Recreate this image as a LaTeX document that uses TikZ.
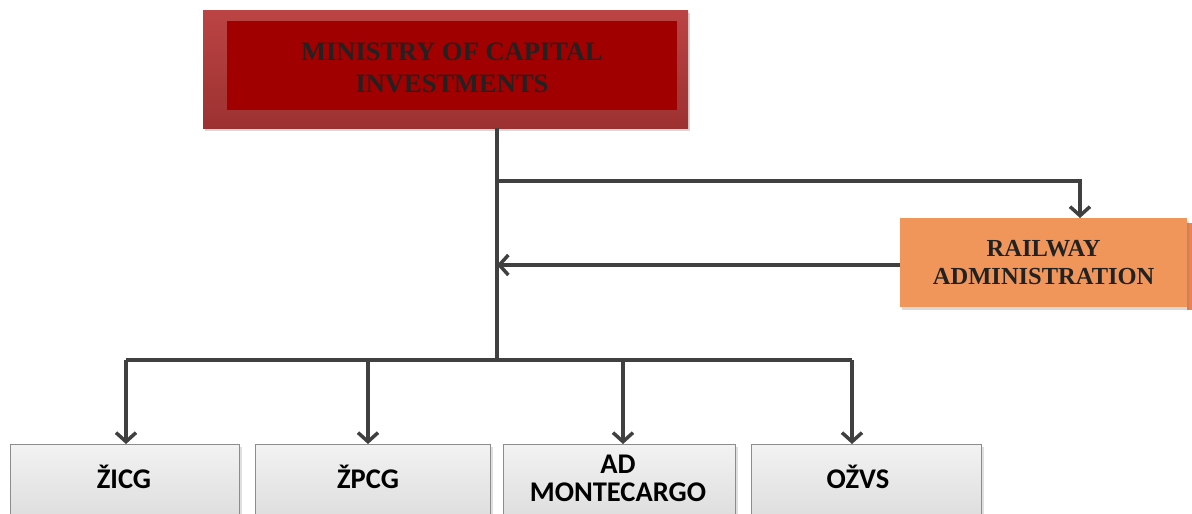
\documentclass[tikz,border=0pt]{standalone}
\usepackage{fontspec}
\setmainfont{Liberation Serif}
\newfontfamily\calib{Carlito}
\usetikzlibrary{arrows.meta,shadows}
\definecolor{conn}{HTML}{404040}
\definecolor{minout}{HTML}{B83A3A}
\definecolor{minin}{HTML}{A00000}
\definecolor{rail}{HTML}{F0965A}
\definecolor{txtd}{HTML}{222222}
\definecolor{boxedge}{HTML}{8C8C8C}
\tikzset{
  conline/.style={draw=conn,line width=4pt},
  tip/.style={-{Straight Barb[length=9pt,width=20pt,line width=3.5pt]}},
  bottombox/.style={draw=boxedge,line width=1pt,top color=gray!10,bottom color=gray!30,
    minimum height=90pt,anchor=north west,inner sep=0pt,
    drop shadow={shadow xshift=2pt,shadow yshift=-2pt,opacity=0.25}},
  bottomtext/.style={font=\calib\bfseries\fontsize{28.5}{28}\selectfont,text=black,align=center,inner sep=0pt},
}
\begin{document}
\begin{tikzpicture}[x=1pt,y=-1pt]
\useasboundingbox (0,0) rectangle (1192,514);
% ministry
\node[minimum width=485pt,minimum height=118pt,anchor=north west,inner sep=0pt,
  top color=minout!95!white,bottom color=minout!85!black,
  drop shadow={shadow xshift=2pt,shadow yshift=-3pt,opacity=0.3}] (mino) at (203,10) {};
\node[fill=minin,minimum width=450pt,minimum height=89pt,anchor=north west,inner sep=0pt] (mini) at (227,21) {};
\node[text=txtd,font=\bfseries\fontsize{26.5}{32}\selectfont,align=center] (mint) at (452,68) {MINISTRY OF CAPITAL\\INVESTMENTS};
% railway extra strip
\fill[rail!85!red] (1187,223) rectangle (1195,310);
\node[fill=rail,minimum width=287pt,minimum height=89pt,anchor=north west,inner sep=0pt,
  drop shadow={shadow xshift=2pt,shadow yshift=-3pt,opacity=0.3},
  text=txtd,font=\bfseries\fontsize{24.5}{28}\selectfont,align=center] (rail) at (900,218) {RAILWAY\\ADMINISTRATION};
% bottom boxes
\node[bottombox,minimum width=229pt] (b1) at (10,444) {};
\node[bottombox,minimum width=235pt] (b2) at (255,444) {};
\node[bottombox,minimum width=232pt] (b3) at (503,444) {};
\node[bottombox,minimum width=230pt] (b4) at (751,444) {};
\node[bottomtext] (t1) at (124,477) {ŽICG};
\node[bottomtext] (t2) at (368,477) {ŽPCG};
\node[bottomtext] (t3) at (618,478) {AD\\MONTECARGO};
\node[bottomtext] (t4) at (858,477) {OŽVS};
% connectors
\coordinate (j1) at (497,181);
\coordinate (j2) at (497,265);
\coordinate (j3) at (497,360);
\draw[conline] (mino.south -| j1) -- (j3);
\draw[conline,tip] (j1) -| (rail.north -| 1080,0);
\draw[conline,tip] (rail.west |- j2) -- (j2);
\draw[conline] (126,360) -- (852,360);
\draw[conline,tip] (126,360) -- (b1.north -| 126,0);
\draw[conline,tip] (368,360) -- (b2.north -| 368,0);
\draw[conline,tip] (623,360) -- (b3.north -| 623,0);
\draw[conline,tip] (852,360) -- (b4.north -| 852,0);
\end{tikzpicture}
\end{document}
